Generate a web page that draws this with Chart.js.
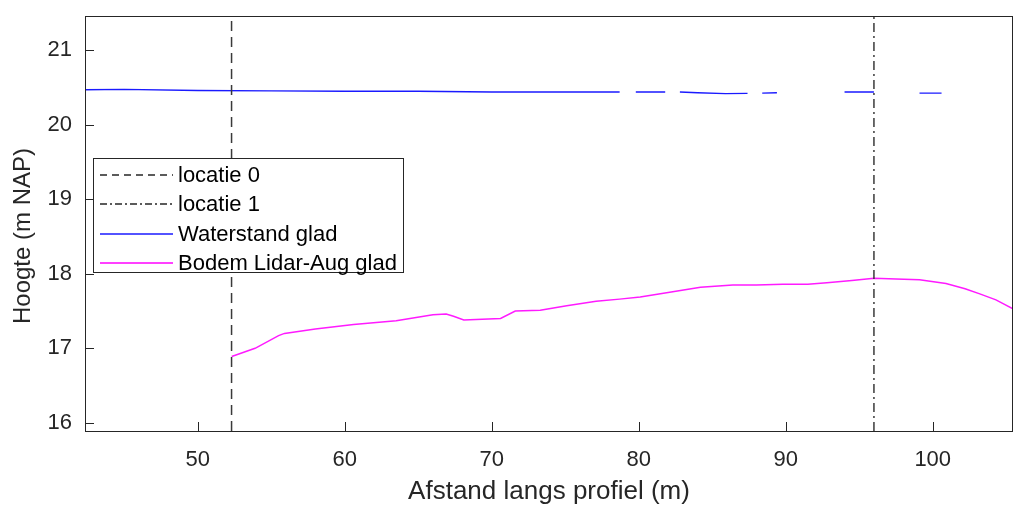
<!DOCTYPE html>
<html>
<head>
<meta charset="utf-8">
<script src="https://cdn.jsdelivr.net/npm/chart.js@4"></script>
<style>
  html, body { margin: 0; padding: 0; background: #fff; }
  #wrap { position: relative; width: 1013px; height: 507px; }
</style>
</head>
<body>
<div id="wrap"><canvas id="profiel" width="1013" height="507"></canvas></div>
<script>
// axis limits
const xMin = 42.33, xMax = 105.46;
const yMin = 15.89, yMax = 21.46;
const xTicks = [50, 60, 70, 80, 90, 100];
const yTicks = [16, 17, 18, 19, 20, 21];

// vertical markers
const loc0X = 52.3;
const loc1X = 96.0;

// water level (null = gap in the line)
const waterX = [42.33, 45, 50, 55, 60, 65, 70, 75, 78.7, 79.2, 79.8, 81.8, 82.3, 82.8, 84.0, 85.9, 87.4, 87.9, 88.4, 89.4, 91.0, 94.0, 96.0, 97.5, 99.1, 100.6];
const waterY = [20.47, 20.475, 20.46, 20.455, 20.45, 20.45, 20.44, 20.44, 20.44, null, 20.44, 20.44, null, 20.44, 20.43, 20.418, 20.422, null, 20.425, 20.43, null, 20.44, 20.44, null, 20.425, 20.425];

// bed level
const bedX = [52.31, 53.9, 55.5, 55.9, 58.0, 60.6, 63.5, 66.0, 66.9, 67.4, 68.1, 70.6, 71.6, 73.3, 75.1, 77.1, 78.7, 80.1, 82.0, 84.2, 86.4, 88.0, 89.8, 91.5, 92.8, 94.5, 96.0, 97.5, 99.1, 100.9, 102.2, 103.2, 104.3, 105.46];
const bedY = [16.89, 17.0, 17.17, 17.2, 17.26, 17.32, 17.37, 17.45, 17.46, 17.43, 17.38, 17.40, 17.50, 17.51, 17.57, 17.63, 17.66, 17.69, 17.75, 17.82, 17.85, 17.85, 17.86, 17.86, 17.88, 17.91, 17.94, 17.93, 17.92, 17.87, 17.80, 17.73, 17.65, 17.53];

const yTitle = 'Hoogte (m NAP)';

const pts = (xs, ys) => xs.map((x, i) => ({ x: x, y: ys[i] }));

const axisColor = '#262626';
const fontFam = '"Liberation Sans", Arial, Helvetica, sans-serif';

const legendItems = [
  { label: 'locatie 0', color: '#262626', dash: [7, 5] },
  { label: 'locatie 1', color: '#262626', dash: [7, 3, 2, 3] },
  { label: 'Waterstand glad', color: '#1a1aff', dash: [] },
  { label: 'Bodem Lidar-Aug glad', color: '#ff00ff', dash: [] }
];

// inward tick marks + box, MATLAB style
const boxTicks = {
  id: 'boxTicks',
  afterDraw(chart) {
    const { ctx, chartArea: a, scales } = chart;
    ctx.save();
    ctx.strokeStyle = axisColor;
    ctx.lineWidth = 1;
    ctx.setLineDash([]);
    ctx.strokeRect(a.left + 0.5, a.top + 0.5, a.right - a.left - 1, a.bottom - a.top);
    ctx.beginPath();
    xTicks.forEach(v => {
      const px = Math.round(scales.x.getPixelForValue(v)) + 0.5;
      ctx.moveTo(px, a.bottom); ctx.lineTo(px, a.bottom - 9);
    });
    yTicks.forEach(v => {
      const py = Math.round(scales.y.getPixelForValue(v)) + 0.5;
      ctx.moveTo(a.left, py); ctx.lineTo(a.left + 9, py);
    });
    ctx.stroke();

    // y axis title, MATLAB places it a bit lower than the axis centre
    ctx.translate(23, 236);
    ctx.rotate(-Math.PI / 2);
    ctx.font = '24px ' + fontFam;
    ctx.fillStyle = axisColor;
    ctx.textAlign = 'center';
    ctx.textBaseline = 'middle';
    ctx.fillText(yTitle, 0, 0);
    ctx.restore();
  }
};

// legend box inside the axes
const boxLegend = {
  id: 'boxLegend',
  afterDraw(chart) {
    const ctx = chart.ctx;
    const L = 93, T = 158, W = 310, H = 114;
    ctx.save();
    ctx.fillStyle = '#fff';
    ctx.fillRect(L, T, W, H);
    ctx.strokeStyle = axisColor;
    ctx.lineWidth = 1;
    ctx.strokeRect(L + 0.5, T + 0.5, W, H);
    ctx.font = '22px ' + fontFam;
    ctx.textBaseline = 'middle';
    legendItems.forEach((it, i) => {
      const y = T + 17 + i * 29.4;
      ctx.strokeStyle = it.color;
      ctx.lineWidth = 1.4;
      ctx.setLineDash(it.dash);
      ctx.beginPath();
      ctx.moveTo(L + 7, Math.round(y));
      ctx.lineTo(L + 80, Math.round(y));
      ctx.stroke();
      ctx.setLineDash([]);
      ctx.fillStyle = '#000';
      ctx.fillText(it.label, L + 85, y + 1);
    });
    ctx.restore();
  }
};

new Chart(document.getElementById('profiel'), {
  type: 'scatter',
  data: {
    datasets: [
      {
        label: 'locatie 0',
        data: pts([loc0X, loc0X], [yMin, yMax]),
        showLine: true, borderColor: '#3a3a3a', borderWidth: 1.5,
        borderDash: [10, 6], pointRadius: 0
      },
      {
        label: 'locatie 1',
        data: pts([loc1X, loc1X], [yMin, yMax]),
        showLine: true, borderColor: '#3a3a3a', borderWidth: 1.5,
        borderDash: [9, 4, 2, 4], pointRadius: 0
      },
      {
        label: 'Waterstand glad',
        data: pts(waterX, waterY),
        showLine: true, spanGaps: false, borderColor: '#1a1aff', borderWidth: 1.3,
        pointRadius: 0
      },
      {
        label: 'Bodem Lidar-Aug glad',
        data: pts(bedX, bedY),
        showLine: true, borderColor: '#ff1aff', borderWidth: 1.5,
        pointRadius: 0
      }
    ]
  },
  options: {
    responsive: false,
    animation: false,
    layout: { padding: { top: 16, right: 0, left: 0, bottom: 0 } },
    plugins: {
      legend: { display: false },
      tooltip: { enabled: false }
    },
    scales: {
      x: {
        type: 'linear', min: xMin, max: xMax,
        afterBuildTicks: s => { s.ticks = xTicks.map(v => ({ value: v })); },
        afterFit: s => { s.height = 76; s.paddingLeft = 0; s.paddingRight = 0; },
        grid: { display: false, drawTicks: false },
        border: { display: false },
        ticks: { color: axisColor, font: { size: 22, family: fontFam }, padding: 16, maxRotation: 0 },
        title: { display: true, text: 'Afstand langs profiel (m)', color: axisColor, font: { size: 26, family: fontFam }, padding: { top: 0, bottom: 0 } }
      },
      y: {
        type: 'linear', min: yMin, max: yMax,
        afterBuildTicks: s => { s.ticks = yTicks.map(v => ({ value: v })); },
        afterFit: s => { s.width = 85; s.paddingTop = 0; s.paddingBottom = 0; },
        grid: { display: false, drawTicks: false },
        border: { display: false },
        ticks: { color: axisColor, font: { size: 22, family: fontFam }, padding: 13 },
        title: { display: false }
      }
    }
  },
  plugins: [boxTicks, boxLegend]
});
</script>
</body>
</html>
